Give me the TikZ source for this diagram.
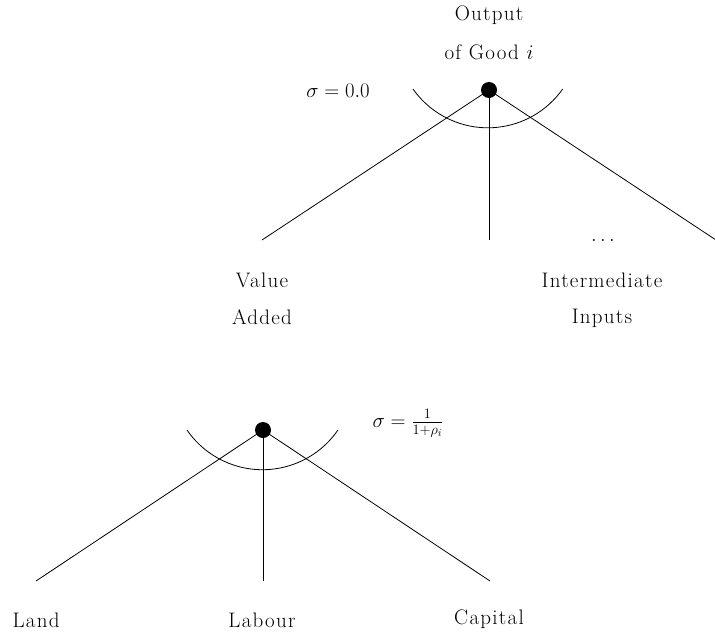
\documentclass[tikz,border=0pt]{standalone}
\usepackage{fontspec}
\setmainfont{Latin Modern Roman}[LetterSpace=6]
\begin{document}
\begin{tikzpicture}[x=1pt,y=-1pt,
  every node/.style={font=\fontsize{21}{25}\selectfont, inner sep=0pt},
  dotnode/.style={circle,fill=black,minimum size=16pt,inner sep=0pt},
  branch/.style={line width=0.8pt},
  lbl/.style={anchor=base}]
\useasboundingbox (0,0) rectangle (715,635);
% top nest
\node[dotnode] (top) at (489,90) {};
\coordinate (va) at (262,240);
\coordinate (mid) at (489,240);
\coordinate (ii) at (716,240);
\draw[branch] (top.center) -- (va);
\draw[branch] (top.center) -- (mid);
\draw[branch] (top.center) -- (ii);
\coordinate (arcA) at (413,89);
\draw[branch] (arcA) arc[start angle=215.2, end angle=324.8, radius=91.6pt];
\node[lbl] (out1) at (489,20) {Output};
\node[lbl] (out2) at (489,59) {of Good $i$};
\node[lbl] (sig1) at (338,97) {$\sigma = 0.0$};
\node (dots) at (603,240) {$\ldots$};
\node[lbl] (val1) at (262,287) {Value};
\node[lbl] (val2) at (262,324) {Added};
\node[lbl] (int1) at (602,287) {Intermediate};
\node[lbl] (int2) at (602,323) {Inputs};
% bottom nest
\node[dotnode] (bot) at (263,430) {};
\coordinate (la) at (36,581);
\coordinate (lb) at (263,581);
\coordinate (ca) at (490,581);
\draw[branch] (bot.center) -- (la);
\draw[branch] (bot.center) -- (lb);
\draw[branch] (bot.center) -- (ca);
\coordinate (arcB) at (187,430);
\draw[branch] (arcB) arc[start angle=214.5, end angle=325.5, radius=91.6pt];
\node[lbl] (sig2) at (408,427) {$\sigma = \frac{1}{1+\rho_i}$};
\node[lbl] (land) at (36,627) {Land};
\node[lbl] (lab) at (262,627) {Labour};
\node[lbl] (cap) at (489,624) {Capital};
\end{tikzpicture}
\end{document}
